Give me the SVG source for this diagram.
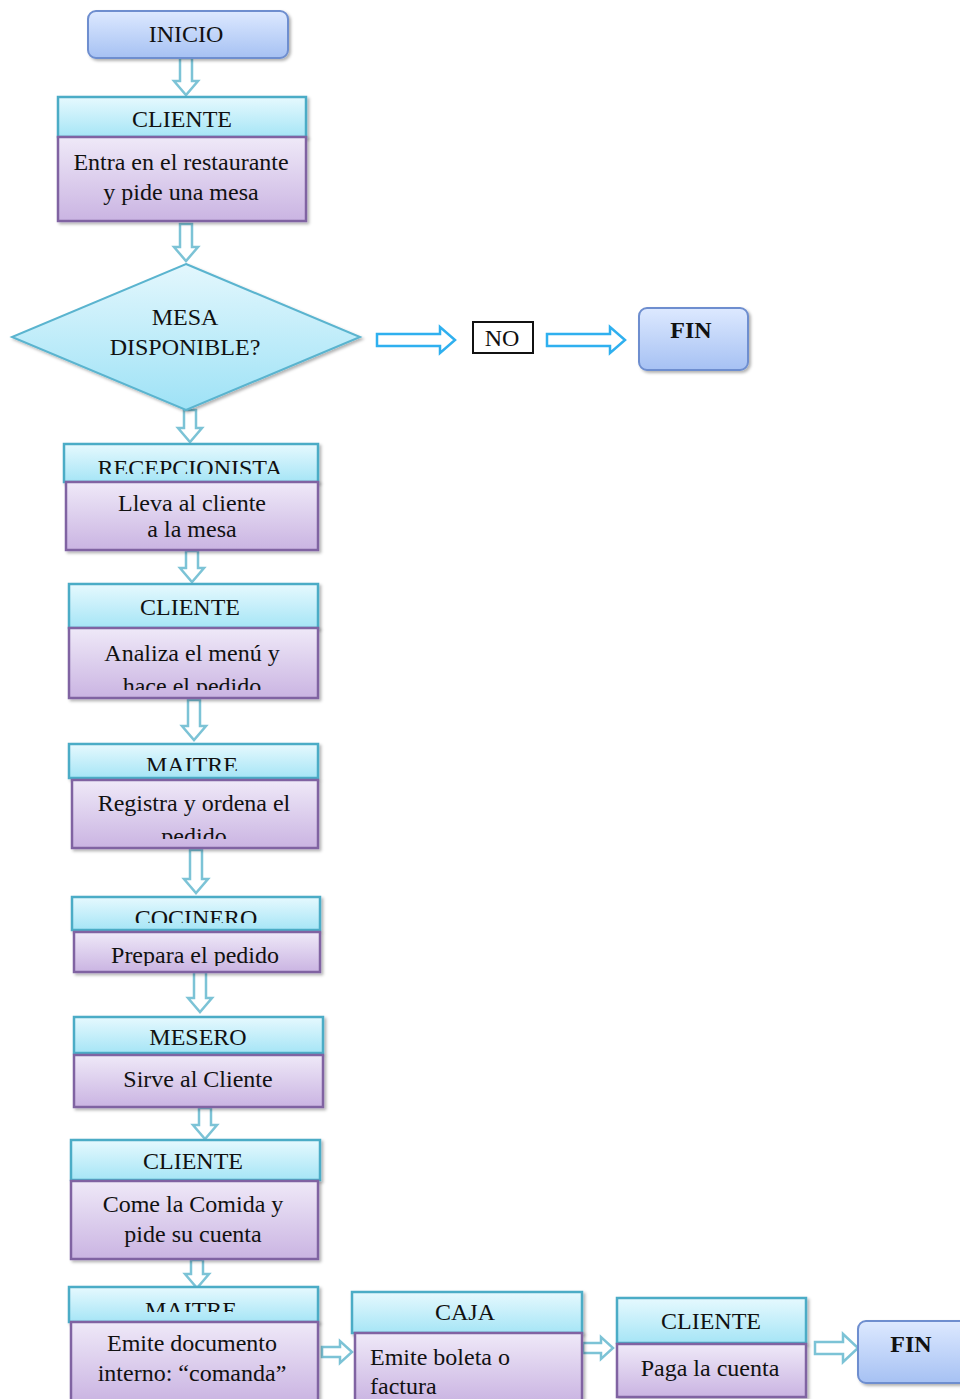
<svg xmlns="http://www.w3.org/2000/svg" width="960" height="1399" viewBox="0 0 960 1399">
<defs>
<linearGradient id="gBlue" x1="0" y1="0" x2="0" y2="1"><stop offset="0" stop-color="#dde9ff"/><stop offset="1" stop-color="#a6c1f3"/></linearGradient>
<linearGradient id="gCyan" x1="0" y1="0" x2="0" y2="1"><stop offset="0" stop-color="#e6f9fe"/><stop offset="1" stop-color="#a6e5f6"/></linearGradient>
<linearGradient id="gPurp" x1="0" y1="0" x2="0" y2="1"><stop offset="0" stop-color="#efe9f8"/><stop offset="1" stop-color="#cab4e2"/></linearGradient>
<linearGradient id="gDia" x1="0" y1="0" x2="0" y2="1"><stop offset="0" stop-color="#e3f7fd"/><stop offset="1" stop-color="#9ee2f6"/></linearGradient>
<filter id="sh" x="-10%" y="-10%" width="130%" height="140%"><feDropShadow dx="2" dy="2" stdDeviation="1.5" flood-color="#000" flood-opacity="0.3"/></filter>
<clipPath id="c1"><rect x="60" y="440" width="260" height="34"/></clipPath>
<clipPath id="c2"><rect x="60" y="740" width="260" height="31"/></clipPath>
<clipPath id="c3"><rect x="60" y="890" width="265" height="33"/></clipPath>
<clipPath id="c4"><rect x="60" y="1285" width="260" height="27"/></clipPath>
<clipPath id="c5"><rect x="60" y="630" width="260" height="60"/></clipPath>
<clipPath id="c6"><rect x="60" y="780" width="260" height="59"/></clipPath>
<clipPath id="c7"><rect x="60" y="932" width="265" height="34"/></clipPath>
</defs>
<style>
.term{fill:url(#gBlue);stroke:#6e8ecf;stroke-width:2;filter:url(#sh)}
.hdr{fill:url(#gCyan);stroke:#4bacc6;stroke-width:2.5;filter:url(#sh)}
.body{fill:url(#gPurp);stroke:#8064a2;stroke-width:2.5;filter:url(#sh)}
.dia{fill:url(#gDia);stroke:#5ab4cf;stroke-width:2;filter:url(#sh)}
text{font-family:"Liberation Serif","Times New Roman",serif;font-size:24px;fill:#111;text-anchor:middle}
.b{font-weight:bold}
.l{text-anchor:start}
.av{fill:#fff;stroke:#7cc3d6;stroke-width:2.5;stroke-linejoin:miter}
.ah{fill:#fff;stroke:#2fb0ef;stroke-width:2.5}
</style>
<g id="connectors">
<path class="av" d="M180 58 H192 V81 H198 L186 95 L174 81 H180 Z"/>
<path class="av" d="M180 224 H192 V247 H198 L186 261 L174 247 H180 Z"/>
<path class="av" d="M184 410 H196 V428 H202 L190 442 L178 428 H184 Z"/>
<path class="av" d="M186 551 H198 V568 H204 L192 582 L180 568 H186 Z"/>
<path class="av" d="M188 700 H200 V726 H206 L194 740 L182 726 H188 Z"/>
<path class="av" d="M190 850 H202 V879 H208 L196 893 L184 879 H190 Z"/>
<path class="av" d="M194 972 H206 V998 H212 L200 1012 L188 998 H194 Z"/>
<path class="av" d="M199 1108 H211 V1125 H217 L205 1139 L193 1125 H199 Z"/>
<path class="av" d="M191 1260 H203 V1274 H209 L197 1288 L185 1274 H191 Z"/>
<path class="ah" d="M377 334 H440 V327 L455 340 L440 353 V346 H377 Z"/>
<path class="ah" d="M547 334 H610 V327 L625 340 L610 353 V346 H547 Z"/>
<path class="av" d="M322 1347 H340 V1341 L352 1352 L340 1363 V1357 H322 Z"/>
<path class="av" d="M583 1343 H601 V1337 L613 1348 L601 1359 V1353 H583 Z"/>
<path class="av" d="M815 1342 H843 V1334 L858 1348 L843 1362 V1354 H815 Z"/>
</g>
<g id="inicio"><rect class="term" x="88" y="11" width="200" height="47" rx="8"/><text x="186" y="42">INICIO</text></g>
<g id="cliente1">
<rect class="hdr" x="58" y="97" width="248" height="40"/><text x="182" y="127">CLIENTE</text>
<rect class="body" x="58" y="137" width="248" height="84"/><text x="181" y="170">Entra en el restaurante</text><text x="181" y="200">y pide una mesa</text>
</g>
<g id="decision"><path class="dia" d="M186 264 L360 337 L186 410 L12 337 Z"/><text x="185" y="325">MESA</text><text x="185" y="355">DISPONIBLE?</text></g>
<g id="no"><rect x="473" y="322" width="60" height="31" fill="#fff" stroke="#111" stroke-width="2"/><text x="502" y="346">NO</text></g>
<g id="fin1"><rect class="term" x="639" y="308" width="109" height="62" rx="8"/><text class="b" x="691" y="338">FIN</text></g>
<g id="recepcionista">
<rect class="hdr" x="64" y="444" width="254" height="38"/><text x="190" y="476" clip-path="url(#c1)">RECEPCIONISTA</text>
<rect class="body" x="66" y="482" width="252" height="68"/><text x="192" y="511">Lleva al cliente</text><text x="192" y="537">a la mesa</text>
</g>
<g id="cliente2">
<rect class="hdr" x="69" y="584" width="249" height="44"/><text x="190" y="615">CLIENTE</text>
<rect class="body" x="69" y="628" width="249" height="70"/><text x="192" y="661">Analiza el menú y</text><text x="192" y="694" clip-path="url(#c5)">hace el pedido</text>
</g>
<g id="maitre1">
<rect class="hdr" x="69" y="744" width="249" height="34"/><text x="192" y="773" clip-path="url(#c2)">MAITRE</text>
<rect class="body" x="72" y="780" width="246" height="68"/><text x="194" y="811">Registra y ordena el</text><text x="194" y="844" clip-path="url(#c6)">pedido</text>
</g>
<g id="cocinero">
<rect class="hdr" x="72" y="897" width="248" height="33"/><text x="196" y="926" clip-path="url(#c3)">COCINERO</text>
<rect class="body" x="74" y="932" width="246" height="40"/><text x="195" y="963" clip-path="url(#c7)">Prepara el pedido</text>
</g>
<g id="mesero">
<rect class="hdr" x="74" y="1017" width="249" height="36"/><text x="198" y="1045">MESERO</text>
<rect class="body" x="74" y="1055" width="249" height="52"/><text x="198" y="1087">Sirve al Cliente</text>
</g>
<g id="cliente3">
<rect class="hdr" x="71" y="1140" width="249" height="40"/><text x="193" y="1169">CLIENTE</text>
<rect class="body" x="71" y="1181" width="247" height="78"/><text x="193" y="1212">Come la Comida y</text><text x="193" y="1242">pide su cuenta</text>
</g>
<g id="maitre2">
<rect class="hdr" x="69" y="1287" width="249" height="35"/><text x="191" y="1318" clip-path="url(#c4)">MAITRE</text>
<rect class="body" x="71" y="1322" width="247" height="80"/><text x="192" y="1351">Emite documento</text><text x="192" y="1381">interno: “comanda”</text>
</g>
<g id="caja">
<rect class="hdr" x="352" y="1292" width="230" height="41"/><text x="465" y="1320">CAJA</text>
<rect class="body" x="355" y="1333" width="227" height="70"/><text class="l" x="370" y="1365">Emite boleta o</text><text class="l" x="370" y="1394">factura</text>
</g>
<g id="cliente4">
<rect class="hdr" x="617" y="1298" width="189" height="45"/><text x="711" y="1329">CLIENTE</text>
<rect class="body" x="617" y="1344" width="189" height="53"/><text x="710" y="1376">Paga la cuenta</text>
</g>
<g id="fin2"><rect class="term" x="858" y="1321" width="110" height="62" rx="8"/><text class="b" x="911" y="1352">FIN</text></g>
</svg>
